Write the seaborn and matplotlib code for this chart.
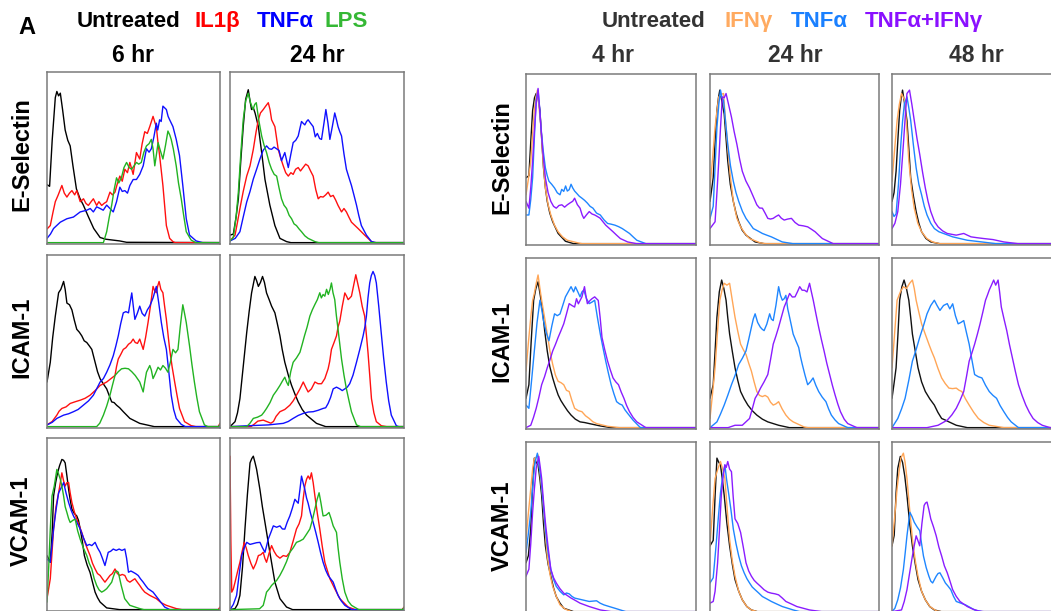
import matplotlib
matplotlib.use("Agg")
import matplotlib.pyplot as plt
import pandas as pd
import seaborn as sns

# ---------------------------------------------------------------------------
# Flow-cytometry histograms: x = log fluorescence (0-100), y = % of max count
# ---------------------------------------------------------------------------

# ---- Panel group 1: Untreated / IL1b / TNFa / LPS at 6 hr and 24 hr ----
LEFT_TREATMENTS = ["Untreated", "IL1\u03b2", "TNF\u03b1", "LPS"]
LEFT_TIMES = ["6 hr", "24 hr"]
MARKERS = ["E-Selectin", "ICAM-1", "VCAM-1"]

ES6_UNT = [(0,34),(1.5,33),(3,60),(4.8,85),(5.7,88.6),(6.7,86),(7.7,87.6),(9,78),(10.5,66),(12,60),(13.4,56.7),(15,45),(17,31.5),(19,26),(21,22),(24,15),(27,8.3),(30.7,3),(34,2),(38,1.5),(42,1),(46,0.2)]
ES6_IL1B = [(0,8),(1.9,10),(3.5,18),(4.8,24),(6.5,28),(8.6,33.5),(10,29),(11.5,26.7),(13,29),(14.4,30.5),(16,28),(17.2,30.5),(19.2,24),(21.1,25.7),(22.5,23),(23.9,21.8),(25.5,24),(26.8,25.7),(28.7,21.8),(30,24),(31.6,21.8),(33,23),(34.5,24),(36.4,29.6),(37.8,28),(39.3,29.6),(40.5,34),(42.1,39),(43.5,36),(45,43),(46.5,41),(47.9,47),(49.8,40),(51.7,52.8),(53.6,49),(55,58),(56.5,65),(58,64),(59.4,68),(61.3,74),(62.5,70),(63.2,68),(64,60),(65.1,51),(67,33.5),(69,10),(70.9,2.5),(72.8,0.6),(74,0)]
ES6_TNF = [(0,2.5),(2,5),(3.8,8.3),(7.7,12),(11.5,14),(15.3,15),(19.2,18),(23,19),(25,20),(26.8,18),(28.7,21),(30.7,20),(32.5,19),(34.5,22),(38.3,18),(40.2,24),(42.1,32.5),(43.5,30),(45,30.5),(46.5,29),(47.9,33.5),(49.8,37),(51.7,37),(53.6,40),(55.6,45),(57.5,55),(59,53),(60.3,55),(61.8,62),(63.2,70),(64,66),(65.1,72),(66,71),(67,80),(68,79),(69,78),(70,74),(70.9,72),(72.8,68),(74.7,60.5),(76.6,51),(78.5,33.5),(80.5,14),(82.4,4.4),(86.2,1),(90,0)]
ES6_LPS = [(32.6,0),(34.5,6.4),(36,15),(37.4,22),(38.8,31),(40.2,38),(41.5,35),(43,38),(44.5,44),(46,47),(47.5,44),(48.9,43),(50.3,45),(51.7,47),(53,46),(54.5,47),(56,53),(57.5,56.7),(59,58),(60.3,60.5),(61.3,55),(62.3,45),(63.3,52),(64.2,58.6),(65.5,54),(67,49),(68.5,57),(69.9,65.4),(71,63),(71.8,60.5),(73,55),(74.7,45),(76,35),(77.6,25.7),(79,16),(80.5,6.4),(83.3,1.5),(86,0)]

ES24_UNT = [(0,4.4),(1.9,5),(3.5,15),(4.8,25.7),(6.2,48),(7.6,68),(9,84),(10.5,89.6),(11.5,83),(12.4,78),(13.4,79),(14.4,76),(16.3,68),(18.2,52.8),(20.1,37),(22.9,22),(25.8,10),(28.7,2.5),(32.5,0.6),(35,0)]
ES24_IL1B = [(0,1),(2.9,4.4),(4.3,12),(5.7,20),(7.6,30),(9.6,39),(11.5,45),(13.4,54.7),(15,65),(16.3,72),(17.5,76),(19.1,78),(20.5,80),(22,82),(23,78),(23.9,72),(25.8,68),(27.7,54.7),(29,50),(30.6,45),(32,41),(33.5,39),(35,41),(36.3,40),(37.7,43),(39.2,44),(40.5,42),(42,44),(43.5,46),(44.9,45),(46.3,42),(47.8,39),(49.3,31),(50.7,25.7),(52,27),(53.5,26.7),(55,28),(56.4,29.6),(57.8,27),(59.3,27.7),(60.7,25),(62.1,21.8),(64.1,18),(65.5,20),(66.9,18),(68.3,15),(69.8,12),(73.6,8.3),(77.4,4.4),(81.3,0.6),(83,0)]
ES24_TNF = [(0,1),(3,2.5),(5.7,6.4),(7.6,15),(9.6,23.8),(11.5,30),(13.4,37.3),(15.3,43),(17.2,49),(19,54),(21,56.7),(22.5,55),(23.9,54.7),(25.3,56),(26.8,55),(28.2,54),(29.6,48),(31.5,52.8),(33.5,44),(35,52),(36.3,58.6),(37.8,60),(39.2,62.5),(40.2,67),(41.1,71),(42,70),(43,69),(44,71),(44.9,72),(46.3,70),(47.8,68),(49,62),(50.2,64),(51.5,61),(52.6,60.5),(54,70),(55.1,78),(56.3,70),(57.4,60.5),(58.8,68),(60.2,76),(61.2,72),(62.1,68),(63.1,65),(64.1,62.5),(65.5,52),(66.9,43),(68.4,38),(69.8,33.5),(71.2,28),(72.7,22),(74,16),(75.5,10),(78.4,4.4),(81.3,0.6),(84,0)]
ES24_LPS = [(0,1),(1.9,3),(3.5,15),(4.8,29.6),(6.2,52),(7.6,72),(9,83),(10.5,87.6),(11.8,82),(13.2,78),(14.2,81),(15.1,82),(16.5,72),(18.2,62.5),(19.6,57),(21,52.8),(22.5,47),(23.9,43),(25.4,40),(26.8,39),(28.2,32),(29.6,25.7),(31,22),(32.5,20),(34,16),(35.4,14),(36.8,11),(38.2,10),(39.7,8),(41.1,6.4),(43,4),(44.9,2.5),(48.8,0.6),(51,0)]

IC6_UNT = [(0,26),(1.9,37.5),(3.3,52),(4.8,64.4),(6.7,78),(8,80),(9.6,84.6),(10.5,80),(11.5,72),(13,71),(14.4,68),(15.8,62),(17.2,56.7),(18.7,55),(20.1,52.9),(21.5,50),(23,49),(24.5,47),(25.9,45),(27.8,37.5),(29.2,32),(30.7,27.9),(32.5,25),(34.5,22),(36,18),(37.4,14.4),(38.8,14),(40.2,12.5),(42,11),(44.1,8.7),(47.9,4.8),(53.6,1.9),(59.4,0.6),(62,0)]
IC6_IL1B = [(0,1),(3,3),(5.7,6.7),(7,9),(8.6,10.6),(11,11.5),(13.4,13.5),(16.3,14.5),(19.2,15.4),(22,16.5),(24.9,18.3),(27.8,21),(30.7,24),(32.6,25),(34.5,26),(37,28),(39.3,29.8),(40.2,35),(41.2,39.4),(42.6,42),(44.1,45),(45.6,46),(47.1,48),(48.5,49),(49.8,51),(51,49),(52.3,48.5),(53.6,51),(54.6,48),(55.6,45),(57,52),(58.4,60.6),(59.9,71),(61.3,81.7),(62.3,79),(63.2,78),(64,82),(64.8,84.6),(65.8,80),(67,78),(68,70),(69,62.5),(70.9,45),(72.3,35),(73.8,26),(75.2,18),(76.6,10.6),(79.5,2.9),(83.3,0.6),(86,0),(99,0),(100,2)]
IC6_TNF = [(0,1),(3,2.5),(5.7,4.8),(9.6,6.7),(12.5,7.5),(15.3,8.7),(18,10),(21,12.5),(24,15),(26.8,18.3),(28.7,22),(30.7,26),(32.6,28),(34.5,31.7),(36.4,36),(38.3,41.3),(39.8,47),(41.2,52.9),(42.6,60),(44.1,66.3),(45.6,67),(47.1,66.3),(48,72),(49,77.9),(49.9,70),(50.8,62.5),(52.2,66),(53.6,70.2),(55,66),(56.5,64.4),(58,68),(59.4,70.2),(61.3,75),(63.2,81.7),(64.6,72),(66.1,60.6),(67.5,52),(69,45),(70.4,32),(71.8,18.3),(73.2,10),(74.7,4.8),(77.6,1.3),(80,0)]
IC6_LPS = [(28.7,0),(30.5,2),(32.6,6.7),(34.5,12),(36.4,18.3),(37.8,24),(39.3,29.8),(41.2,32),(43.1,33.7),(45.1,34),(47.1,33.7),(49,32),(51,29.8),(53.6,26),(55.6,20.2),(56.5,26),(57.5,31.7),(59.4,35.6),(60.3,33),(61.3,28),(62.7,31),(64.2,34.6),(65.6,33),(67,35.6),(68.5,34),(69.9,31.7),(71.4,38),(72.8,45),(74.3,43),(75.7,45),(77,58),(78.5,71),(79.5,66),(80.5,60.6),(82.4,47),(83.8,36),(85.2,26),(86.6,17),(88.1,8.7),(91,1),(93,0),(99,0),(100,1)]

IC24_UNT = [(0,0),(2.9,2.9),(4.3,8),(5.7,16.3),(7.6,35),(9.6,54.8),(11,67),(12.4,77.9),(14.3,87.5),(15.3,85),(16.3,81.7),(17.5,84),(18.7,87.5),(19.8,84),(21,77.9),(22.5,74),(23.9,70.2),(25.8,66.3),(27.2,60),(28.7,52.9),(30,45),(31.5,37.5),(33.5,30),(35.4,24),(37.3,19),(39.2,14.4),(41.5,10),(44,6.7),(49.7,1.9),(55,0)]
IC24_IL1B = [(12,0),(14,1.5),(16,3.2),(19.1,3.8),(21,3),(23.5,2),(25,3),(26.5,6),(28.7,8.7),(31.5,10),(34.4,12.5),(36.3,15),(38.2,18.3),(40.2,22),(42.1,26),(43.5,23),(44.9,20.2),(46.8,22),(48.8,26),(50.6,25),(52.6,25),(54.5,28),(56.4,33.7),(57.3,38),(58.3,45),(59.8,49),(61.2,52.9),(62.1,58),(63.1,61.5),(64.5,70),(66,77.9),(67,76),(67.9,74),(68.9,75),(69.8,76),(71,82),(72.3,88.5),(73.5,83),(74.6,77.9),(76,70),(77.4,64.4),(79.3,43.3),(80.3,30),(81.3,16.3),(82.7,8),(84.1,2.9),(87,0.5),(90,0)]
IC24_TNF = [(0,0),(10,0.5),(22,1),(30.6,1.9),(33.5,3),(36.3,4.8),(39.2,6.5),(42.1,7.7),(45,8.5),(47.8,8.7),(50.6,9.5),(53.5,10.6),(55,11),(56.4,13.5),(57.8,17),(59.3,22),(61.2,23),(63.1,22),(64.5,21),(66,22),(67.4,23),(68.8,25),(70.7,30),(72.7,37.5),(74.6,45),(76.5,52.9),(77.5,58),(78.4,64.4),(79.3,75),(80.3,83.7),(81.2,88),(82.2,90.4),(83.2,88),(84.1,83.7),(85.5,70),(86.9,54.8),(88.3,40),(89.8,26),(91.2,15),(92.7,6.7),(95.6,0.5),(97,0)]
IC24_LPS = [(9.6,0),(11.5,2),(13.4,4.8),(15.8,5.5),(18.2,6.7),(19.6,8.5),(21,10.6),(23,14),(24.9,18.3),(26.8,21),(28.7,24),(30.1,26.5),(31.5,28.8),(32.5,26),(33.5,24),(34.9,32),(36.3,37.5),(38.2,40),(40.2,43.3),(41.5,48),(42.8,52.9),(44.3,58),(45.9,64.4),(47.3,68),(48.8,71.2),(50.2,74),(51.6,78),(52.5,75),(53.5,77),(54.5,76),(55.5,80),(56.5,77),(57.5,80),(58.3,83.7),(59.2,78),(60.2,74),(61.1,65),(62.1,56.7),(63.1,48),(64.1,39.4),(65.5,30),(66.9,22),(68.4,15),(69.8,8.7),(72.7,1),(75,0)]

VC6_UNT = [(0,31.5),(1.9,27.6),(3,45),(3.8,66.2),(5,74),(6.1,79.7),(7.3,84),(8.6,87.5),(9.6,87),(10.5,85.5),(11.5,78),(12.5,70),(13.4,64),(14.4,58.5),(15.8,56),(17.2,54.6),(18.2,52),(19.2,47),(20.4,40),(21.6,31.5),(23.2,26),(24.9,21.6),(26.3,16),(27.8,10.2),(29.2,7),(30.7,4.4),(34.5,1),(42,0)]
VC6_IL1B = [(0,6.4),(1.9,18),(3.8,47),(5.2,60),(6.7,68),(7.7,74),(8.6,79.7),(9.6,75),(10.5,72),(11.5,74),(12.5,74),(13.4,68),(14.4,62.4),(15.8,57),(17.2,52.7),(18.6,49),(20.1,45),(21,42),(22,39),(23.5,35),(24.9,31.5),(26.3,27),(27.8,23.7),(29.2,21),(30.7,19.9),(32,18),(33.5,16),(35,18),(36.4,19.9),(37.8,21),(39.3,23.7),(40.7,21),(42.1,19.9),(43.5,20.5),(45,19.9),(46.4,17),(47.9,16),(49.3,17),(50.8,18),(52.2,16),(53.6,14.1),(55,12),(56.5,10.2),(59.4,8.3),(63.2,6.4),(66,4),(69,2.5),(74.7,0.6),(78,0),(99,0),(100,1.5)]
VC6_TNF = [(0,29.5),(1.9,27.6),(2.9,38),(3.8,47),(5.2,58),(6.7,68),(8.2,71),(9.6,74),(11,68),(12.5,62.4),(13.9,58),(15.3,54.6),(17.2,51),(19.2,47),(21,42),(23,37.3),(24.5,38),(25.9,37.3),(27.8,39.2),(29.2,36),(30.7,33.4),(32,30),(33.5,25.7),(35.4,33.4),(36.8,34),(38.3,35.3),(40,34.5),(41.7,35.3),(43.3,34.5),(45,35.3),(46,30),(47.1,21.8),(48.5,22.5),(49.8,21.8),(51.2,21),(52.7,19.9),(54,18),(55.6,16),(57,14),(58.4,12.2),(61.3,10.2),(64.2,6.4),(68,1.5),(71,0)]
VC6_LPS = [(0,4.4),(1,25),(1.9,47),(2.9,66.2),(4.2,72),(5.7,81.7),(6.7,79),(7.7,75.9),(8.6,72),(9.6,66.2),(10.5,60),(11.5,56.6),(12.5,53),(13.4,50.8),(14.9,52),(16.3,52.7),(17.7,46),(19.2,41),(21,36),(23,31.5),(24.4,27),(25.9,23.7),(27.3,18),(28.7,14.1),(30.1,11.5),(31.6,10.2),(33,11),(34.5,12.2),(35.9,14),(37.4,16),(38.3,19),(39.3,21.8),(40.2,22.5),(41.2,21.8),(42.9,14.1),(44.9,6.4),(47.9,2.5),(53.6,0.6),(56,0)]

VC24_UNT = [(0,0),(2.9,0.6),(4.3,3),(5.7,8.3),(7.2,25),(8.6,47),(10,67),(11.5,85.5),(12.5,88),(13.4,89.4),(14.3,86),(15.3,81.7),(17.2,70),(18.6,60),(20.1,50.8),(22.9,33.4),(25.8,16),(28.7,6.4),(32.5,1.5),(36,0)]
VC24_IL1B = [(0,89.4),(0.5,40),(1,10.2),(1.9,12),(2.9,16),(4.3,22),(5.7,27.6),(7,34),(8.2,39.2),(9.3,36),(10.5,31.5),(12,27),(13.4,23.7),(14.9,27),(16.3,31.5),(17.7,32),(19.1,33.4),(20,30),(21,27.6),(22.5,33),(23.9,37.3),(25.3,34),(26.8,31.5),(28.7,30),(30.6,31.5),(32.5,31),(34.4,33.4),(36.3,40),(38.2,47),(39.7,50),(41.1,54.6),(42,64),(43,72),(44,76),(44.9,77.9),(45.9,76),(46.8,79.7),(47.8,74),(48.8,66.2),(50.2,56),(51.6,47),(53,37),(54.5,27.6),(57.4,18),(60.2,12.2),(63.1,6.4),(67.9,1.5),(72,0),(99,0),(100,1.5)]
VC24_TNF = [(0,0),(1.9,3),(3.8,8.3),(5.2,20),(6.7,31.5),(8.2,36),(9.6,39.2),(11.5,38),(13.4,38.5),(15.3,39),(17.2,39.2),(18.7,36),(20.1,33.4),(21,37),(22,41.1),(23.5,45),(24.9,48.8),(26.8,48),(28.7,48.8),(30.1,47),(31.5,46.9),(32.9,51),(34.4,54.6),(35.8,59),(37.3,64.3),(38.3,63),(39.2,62),(40.2,70),(41.1,77.8),(42,74),(43,70),(44,65),(44.9,62),(46.3,56),(47.8,50.8),(49.3,45),(50.7,39.2),(52.1,33),(53.5,27.6),(55,23),(56.4,19.9),(57.8,18),(59.3,16),(60.7,12),(62.1,8.3),(64,5),(66,2.5),(70,0)]
VC24_LPS = [(0,0),(17,0.5),(19.1,2.5),(20,6),(21,10.2),(22.5,12),(23.9,14.1),(25.3,15.5),(26.8,17),(28.7,20),(30.6,23.7),(32.5,28),(34.4,33.4),(36.3,36),(38.2,39.2),(40.2,40),(42.1,41.1),(44,44),(45.9,47),(47.3,52),(48.8,58.6),(50,64),(51.2,68.1),(52.3,62),(53.5,54.6),(55.2,55),(56.9,56.6),(58.1,53),(59.3,48.8),(60.2,47),(61.2,45),(62.1,36),(63.1,27.6),(64.5,18),(66,10.2),(67.9,5),(69.8,2.5),(74,0),(99,0),(100,1)]

# ---- Panel group 2: Untreated / IFNg / TNFa / TNFa+IFNg at 4, 24, 48 hr ----
RIGHT_TREATMENTS = ["Untreated", "IFN\u03b3", "TNF\u03b1", "TNF\u03b1+IFN\u03b3"]
RIGHT_TIMES = ["4 hr", "24 hr", "48 hr"]

ES4_UNT = [(0,38.8),(1.7,40),(2.8,60),(3.9,78.5),(5,86),(6,88.5),(7.1,86),(8.2,78.5),(9.2,62),(10.3,44.7),(11.4,33),(12.5,24.9),(14,18),(15.7,12.9),(18.9,6),(23.2,1.4),(28,0)]
ES4_IFN = [(0,28.8),(1.4,38),(2.8,48.7),(3.9,65),(4.9,78.5),(5.8,86),(6.7,90.5),(7.7,80),(8.8,68.6),(10.1,48),(11.4,32.8),(13,23),(14.6,16.9),(16.7,11),(18.9,7),(21.5,4),(24.3,2),(30.8,0.4),(33,0)]
ES4_TNF = [(0,16.9),(1.7,16.9),(2.8,26),(3.9,38.8),(4.9,62),(6,84.5),(7.1,90.5),(8,80),(8.8,68.6),(10.1,55),(11.4,44.7),(12.5,40),(13.5,36.8),(15.1,35),(16.8,32.8),(18.4,30),(20,28.8),(21,32),(22.2,30.8),(23.3,34),(24.3,31),(25.4,31.8),(26.5,35),(27.5,32.8),(28.6,31),(29.7,29.8),(31.3,28),(32.9,26.8),(34.5,25.5),(36.1,23.9),(37.7,22),(39.4,20.9),(41.5,18),(43.7,16.9),(45.9,14),(48,11.9),(50,11.5),(52.3,10.9),(54.5,10),(56.6,8.9),(60.9,6),(63,4),(65.2,2),(70.5,0)]
ES4_COMBO = [(0,24.9),(1.7,20.9),(2.8,33),(3.9,48.7),(4.9,66),(6,82.5),(7.1,91.5),(8,80),(8.8,68.6),(10.1,52),(11.4,38.8),(13,30),(14.6,24.9),(16.2,22),(17.8,20.9),(19.4,22.5),(21.1,22.9),(22.7,21.5),(24.3,22.9),(25.9,24),(27.5,25),(28.6,26.8),(30.2,23),(31.8,20.9),(33,17),(34,14.9),(35.6,17),(37.2,18.9),(38.8,17.5),(40.4,16.9),(42,16),(43.6,15),(45.2,13),(46.9,10.9),(49,9),(51.2,7),(53.3,5),(55.5,3),(59.8,1),(65,0)]

ES24R_UNT = [(0,24.9),(1.9,38.8),(3,60),(4.1,78.5),(5,86),(5.8,90.5),(7,84),(8.4,76.5),(9.5,62),(10.5,48.7),(12,35),(13.8,24.9),(15.4,18),(17,12.9),(19,8),(21.3,5),(26.7,1),(32,0)]
ES24R_IFN = [(0,32.8),(1.5,50),(3,68.6),(4.1,78),(5.2,86.5),(6.6,88),(8,88.5),(9.2,72),(10.5,56.7),(12,40),(13.8,24.9),(15.9,15),(18.1,9.9),(20.7,6),(23.4,3),(29.9,0.4),(33,0)]
ES24R_TNF = [(0,14.9),(1.9,22),(3,45),(4.1,68.6),(5.2,82),(6.2,90.5),(7.1,86),(8,84.5),(9.2,72),(10.5,58.6),(12.1,46),(13.8,36.8),(15.4,30),(17,24.9),(19.2,19),(21.3,14.9),(23.4,12),(25.6,8.9),(28.3,7.5),(31,6),(33.6,5),(36.3,4),(39.5,2.5),(42.8,1),(49,0)]
ES24R_COMBO = [(0,8.9),(3,12.9),(4.1,30),(5.2,48.7),(6.2,68),(7.3,86.5),(8.4,86),(9.5,88.5),(11,82),(12.7,74.6),(14.3,66),(15.9,58.6),(17.5,50),(19.1,42.7),(21.2,37),(23.4,32.8),(25.5,28),(27.7,22.9),(29.3,21),(31,20.9),(32.6,18),(34.2,14.9),(35.8,14.5),(37.4,14.9),(39,16),(40.6,16.9),(42.2,15),(43.9,13.9),(46,14.5),(48.2,14.9),(50.3,12.5),(52.5,10.9),(55.2,10.5),(57.8,9.9),(60,8.5),(62.2,7),(64.3,5),(66.5,3),(72.9,0)]

ES48_UNT = [(0,24.9),(1.2,30),(2.4,42.7),(3.5,62),(4.5,78.5),(5.4,86),(6.2,90.5),(7.5,82),(8.8,72.6),(9.9,56),(11,38.8),(12.6,28),(14.2,18.9),(15.8,12),(17.4,7),(20,3),(22.8,1),(28,0)]
ES48_IFN = [(0,36.8),(1.5,55),(3,72.6),(4.3,82),(5.6,88.5),(7.3,85),(8.6,70),(9.9,48.7),(11.5,32),(13.1,20.9),(15.2,12),(17.4,7),(20.5,3),(23.9,1),(28,0)]
ES48_TNF = [(0,18.9),(1.2,16),(2.4,17.5),(3.8,35),(5.2,58.6),(6.2,72),(7.3,82.5),(8.8,86.5),(9.9,80),(11,72.6),(12.6,58),(14.2,44.7),(15.8,35),(17.4,28.8),(19,22),(20.6,16.9),(22.8,12),(24.9,8.9),(27.6,7),(30.3,6),(33,5),(35.7,4),(40,3),(44.3,2),(52.9,1),(61,0)]
ES48_COMBO = [(0,8.9),(1.7,12),(3.4,18.9),(5,35),(6.7,58.6),(7.8,75),(8.8,88.5),(10.3,90.5),(11.7,82),(13.1,72.6),(14.7,62),(16.3,52.7),(18,42),(19.6,32.8),(21.2,25),(22.8,18.9),(25,13),(27.1,9.9),(29.8,7.5),(32.5,6),(35.1,5.5),(37.8,5),(40,5.5),(42.2,6),(44.3,5),(46.5,4),(50,3.5),(54,3),(59.4,2.4),(65.8,1),(74,0)]

IC4_UNT = [(0,17.3),(1.7,25.3),(3,50),(4.5,75.1),(5.8,82),(7.1,86),(8.4,78),(9.7,69.1),(11,57),(12.5,45.2),(14,36),(15.7,29.3),(17.3,24),(18.9,19.3),(20.5,16),(22.2,13.3),(24.4,10),(26.5,7.4),(29,5),(31.8,3.4),(34.5,3),(37.2,2.4),(43.7,1),(50,0)]
IC4_IFN = [(0,33.3),(1.4,50),(2.8,65.1),(3.9,75),(4.9,79.1),(6,85),(7.1,90),(8.2,82),(9.2,75.1),(10.9,65),(12.5,55.2),(14.1,45),(15.7,37.3),(17.3,31),(18.9,27.3),(20.6,26.5),(22.2,25.3),(23.8,22),(25.4,21.3),(27,16),(28.6,11.4),(30.8,10),(32.9,9.4),(35,7),(37.2,5.4),(39.3,3.5),(41.5,2.4),(48,0.8),(55,0)]
IC4_TNF = [(0,13.3),(1.7,11.4),(3.3,28),(4.9,45.2),(6.5,62),(8.2,75.1),(9.2,70),(10.3,63.1),(11.9,56),(13.5,51.2),(15.2,60),(16.8,67.1),(18.4,66),(20,67),(21.6,72),(23.2,77.1),(24.8,80),(26.5,83.1),(28,80),(29.1,83),(30.5,80),(31.8,77.1),(32.9,80),(34,81.1),(35.6,76),(37.2,73.1),(38.8,74),(40.4,75.1),(42,65),(43.7,55.2),(45.3,47),(46.9,39.2),(48.5,32),(50.1,25.3),(51.7,20),(53.3,15.3),(55,14),(56.6,13.3),(58.2,10.5),(59.8,8.4),(63,4.4),(67.3,0)]
IC4_COMBO = [(0,0),(2.8,1.4),(4.4,6),(6,11.4),(7.6,18),(9.2,25.3),(10.9,30),(12.5,35.3),(14.1,40),(15.7,45.2),(17.3,49),(18.9,53.2),(20.5,57),(22.2,61.2),(23.8,67),(25.4,73.1),(27,72),(28.6,71.1),(29.7,76),(30.8,73),(32.9,77.1),(34.4,83.1),(35.2,78),(36.1,73.1),(37.7,75),(38.8,76),(40.4,77.1),(41.5,76),(42.5,75),(43.6,65),(44.7,53.2),(46.3,46),(48,39.2),(49.6,34),(51.2,29.3),(52.8,27),(54.4,25.3),(56,21),(57.6,17.3),(59.2,13),(60.9,9.4),(63,6),(65.2,3.4),(70.5,0)]

IC24R_UNT = [(0,17.3),(1.9,25.3),(3,45),(4.1,65.1),(5.5,80),(6.9,87),(8.2,82),(9.5,75.1),(10.5,65),(11.6,55.2),(13.2,45),(14.8,35.3),(16.4,28),(18.1,21.3),(20.2,17),(22.4,13.3),(25,10),(27.7,7.4),(31,5),(34.2,3.4),(40.6,1.4),(47,0)]
IC24R_IFN = [(0,5.4),(1.5,20),(3,35.3),(4.4,56),(5.8,75.1),(7.1,81),(8.4,85.1),(10,84),(11.6,85.1),(13.2,75),(14.8,65.1),(16.4,57),(18.1,49.2),(19.7,46),(21.3,43.2),(22.9,38),(24.5,33.3),(26.1,27),(27.7,21.3),(29.3,19),(31,18.3),(32.6,19),(34.2,18),(35.8,15),(37.4,13.3),(39,14),(40.6,15.3),(42.7,11),(44.9,7.4),(47,5),(49.2,3.4),(55.7,0.4),(58,0)]
IC24R_TNF = [(0,0),(4.1,3.4),(6.2,8),(8.4,13.3),(10.5,19),(12.7,25.3),(14.9,31),(17,37.3),(19.2,41),(21.3,45.2),(22.9,52),(24.5,59.2),(25.6,64),(26.7,67.1),(28.2,62),(29.8,59.2),(30.9,58),(32,57.2),(33.6,61),(35.3,67.1),(36.3,64),(37.4,63.1),(39,72),(40.6,83.1),(41.7,78),(42.8,75.1),(43.9,76),(44.9,78),(46,70),(47.1,65.1),(48.2,60),(49.2,55.2),(50.9,51),(52.5,47.2),(53.5,42),(54.6,37.3),(56.2,31),(57.8,25.3),(59.4,27),(61,29.3),(62.6,25),(64.3,21.3),(66.4,18),(68.6,15.3),(70.2,11),(71.8,7.4),(74,4.5),(76.1,2.4),(81.5,0)]
IC24R_COMBO = [(0,0),(10.7,0),(14.8,1.4),(19.1,1.4),(23.4,5.4),(25,11),(26.7,17.3),(28.3,20),(29.9,23.3),(32,27),(34.2,31.3),(35.8,40),(37.4,49.2),(39,54),(40.6,59.2),(42.2,65),(43.9,71.1),(45.5,75),(47.1,79.1),(48.7,77),(50.3,77.1),(51.7,80),(53.1,83.1),(54.5,81),(55.9,81),(57.4,80),(58.9,85.1),(60,80),(61.1,75.1),(62.7,67),(64.3,59.2),(65.9,52),(67.5,45.2),(69.1,38),(70.8,31.3),(72.4,25),(74,19.3),(75.6,14),(77.2,9.4),(79.4,5),(81.5,2.4),(86.9,0)]

IC48_UNT = [(0,17.3),(1.2,26),(2.4,35.3),(3.5,55),(4.5,75.1),(5.8,83),(7.1,87),(8.5,82),(9.9,75.1),(11,65),(12,55.2),(13.7,45),(15.3,35.3),(17.4,27),(19.6,21.3),(22.2,17),(24.9,13.3),(27,9),(29.2,5.4),(31.3,4.5),(33.5,3.4),(37.8,1.4),(44.3,0)]
IC48_IFN = [(0,35.3),(1.5,55),(3,75.1),(4.9,80),(6.7,83.1),(8.5,82),(10.3,85),(12,87),(13.1,82),(14.2,75.1),(15.8,68),(17.4,61.2),(19.6,55),(21.7,49.2),(23.3,45),(24.9,41.2),(27,35),(29.2,29.3),(31.3,26),(33.5,23.3),(35.6,23),(37.8,23.3),(39.5,22),(41.1,21.3),(43.2,17),(45.4,13.3),(48.1,9),(50.8,5.4),(54,3),(57.2,1.4),(65.8,0)]
IC48_TNF = [(0,0),(3.4,5.4),(5.6,11),(7.7,17.3),(9.9,28),(12,39.2),(14.2,46),(16.3,53.2),(18.5,60),(20.6,67.1),(22.8,72),(24.9,75.1),(26.5,72),(28.2,69.1),(30.3,72),(32.5,73.1),(34,70),(35.7,73),(37.3,66),(38.9,61.2),(40.5,62),(42.2,63.1),(43.8,56),(45.4,49.2),(47,40),(48.6,31.3),(50.8,30),(52.9,29.3),(55,25),(57.2,21.3),(59.4,19),(61.5,17.3),(63.6,13),(65.8,9.4),(68,6),(70.1,3.4),(74.4,0)]
IC48_COMBO = [(0,0),(20.6,0),(27.1,1.4),(32.5,4.4),(35.2,7.5),(37.8,11.4),(40,16),(42.2,21.3),(43.8,30),(45.4,39.2),(47,44),(48.6,49.2),(50.2,55),(51.8,61.2),(53.4,68),(55,75.1),(56.1,78),(57.2,81.1),(58.5,84),(59.8,87),(61,84),(62.4,87),(63.3,80),(64.3,71.1),(65.9,64),(67.5,57.2),(69.1,49),(70.8,41.2),(72.6,33),(74.4,25.3),(76.5,19),(78.7,13.3),(80.8,9),(83,5.4),(85.7,3),(88.4,1.4),(93,0)]

VC4_UNT = [(0,28.8),(1.4,33),(2.8,48.7),(3.8,72),(4.9,90.5),(6,88),(7.1,86.5),(8.2,78),(9.2,68.6),(10.3,52),(11.4,38.8),(13,28),(14.6,20.9),(16.2,14),(17.8,8.9),(20,5),(22.2,2),(28,0)]
VC4_IFN = [(0,42.7),(1.4,58),(2.8,72.6),(4,85),(4.9,90),(6,91),(7.1,92.4),(8.4,80),(9.7,68.6),(11.1,50),(12.5,32.8),(14.1,22),(15.7,14.9),(17.8,9),(20,4),(23,1.5),(26.9,0)]
VC4_TNF = [(0,34.8),(1.4,46),(2.8,58.6),(3.8,72),(4.9,84.5),(5.8,90),(6.7,93.4),(7.7,86),(8.8,78.5),(10.1,64),(11.4,48.7),(13,35),(14.6,24.9),(16.2,19),(17.8,14.9),(20,12),(22.2,9.9),(23.8,11),(25.4,10.5),(27,9),(28.6,8),(30.7,7.5),(32.9,7),(35,6.5),(37.2,6),(39.3,6.2),(41.5,6.4),(43.6,5),(45.8,4),(49,3),(52.3,2),(58.7,0)]
VC4_COMBO = [(0,20.9),(1.7,25),(2.8,40),(3.9,58.6),(4.9,72),(6,84.5),(7.5,91.5),(8.4,85),(9.2,78.5),(10.3,65),(11.4,52.7),(13,38),(14.6,24.9),(16.2,20),(17.8,16.9),(20,13.5),(22.2,10.9),(24.3,9.5),(26.5,8),(29.2,6.5),(31.8,5),(34.5,4),(37.2,3),(43.7,1),(50,0)]

VC24R_UNT = [(0,38.8),(1.9,42),(3,68),(4.1,90.5),(5.2,88),(6.2,86.5),(7.3,78),(8.4,68.6),(10,52),(11.6,38.8),(13.2,28),(14.8,18.9),(17,12),(19.1,7),(21.8,3),(24.5,1),(28,0)]
VC24R_IFN = [(0,38.8),(1.5,60),(3,78.5),(4.6,84),(6.2,88.5),(7.5,84),(8.8,78.5),(10.2,60),(11.6,42.7),(13.2,30),(14.8,20.9),(17,12),(19.1,7),(21.8,3),(24.5,1),(28,0)]
VC24R_TNF = [(0,16.9),(1.9,20),(3.5,38),(5.2,58.6),(6.2,70),(7.3,78.5),(8.8,86.5),(9.8,78),(10.9,70.6),(12.4,60),(13.8,48.7),(15.4,40),(17,32.8),(18.6,27),(20.2,22.9),(21.8,19.5),(23.4,16.9),(25,14.5),(26.7,12.9),(28.8,11),(31,8.9),(33.6,7.5),(36.3,6),(39.5,4.5),(42.8,3),(49.2,1),(53,0)]
VC24R_COMBO = [(0,5),(1.9,6),(3,12),(4.5,28.8),(5.6,48),(6.7,68.6),(7.8,80),(8.8,86.5),(9.6,85),(10.5,88.5),(11.6,84),(12.7,82.5),(13.7,68),(14.8,54.7),(16.4,52),(18.1,46.7),(19.7,38),(21.3,28.8),(22.9,24),(24.5,20.9),(26.1,18.5),(27.7,16.9),(29.8,15),(32,12.9),(34.2,11.5),(36.3,10.9),(38.5,10.5),(40.6,9.9),(42.8,8),(44.9,6),(48.2,4.5),(51.4,3),(58.9,1),(66,0)]

VC48_UNT = [(0,38.8),(1.3,45),(2.4,70),(3.4,84.5),(4.9,91.5),(6.2,88),(7.5,80),(8.8,68.6),(10.4,52),(12,38.8),(13.7,28),(15.3,18.9),(17.4,12),(19.6,7),(22.2,3),(24.9,1),(29,0)]
VC48_IFN = [(0,38.8),(1.5,55),(3,72.6),(4.1,82),(5.2,90.5),(6.7,93.4),(7.7,88),(8.8,78.5),(10.4,60),(12,42.7),(13.7,30),(15.3,20.9),(17.4,12),(19.6,7),(22.3,3),(26.2,0.4),(29,0)]
VC48_TNF = [(0,0),(1.7,2),(3.4,7),(5,14),(6.7,24.9),(7.8,35),(8.8,44.7),(9.7,52),(10.5,58.6),(11.8,56),(13.1,52.7),(14.7,50),(16.3,47.7),(17.4,40),(18.5,32.8),(20.1,26),(21.7,20.9),(22.8,18),(23.9,16.9),(25,19),(26,20.9),(27.1,22.5),(28.2,22.9),(29.8,20),(31.4,16.9),(33,15),(34.6,12.9),(36.2,9),(37.8,6),(40.5,5),(43.2,4),(45.9,2.5),(48.6,1),(53,0)]
VC48_COMBO = [(0,0),(5.6,1),(7.2,6),(8.8,12.9),(10.4,23),(12,32.8),(13.1,39),(14.2,44.7),(15.2,42),(16.3,38.8),(17.6,52),(18.9,62.6),(19.7,64),(20.6,64.6),(21.7,60),(22.8,54.7),(24.4,50),(26,44.7),(27.6,38),(29.2,32.8),(30.8,27),(32.5,22.9),(34.1,18),(35.7,12.9),(37.8,9),(40,6),(42.1,4.5),(44.3,3),(47.5,1.5),(50.8,0.4),(54,0)]

LEFT_PANELS = [
    [[ES6_UNT, ES6_IL1B, ES6_TNF, ES6_LPS], [ES24_UNT, ES24_IL1B, ES24_TNF, ES24_LPS]],
    [[IC6_UNT, IC6_IL1B, IC6_TNF, IC6_LPS], [IC24_UNT, IC24_IL1B, IC24_TNF, IC24_LPS]],
    [[VC6_UNT, VC6_IL1B, VC6_TNF, VC6_LPS], [VC24_UNT, VC24_IL1B, VC24_TNF, VC24_LPS]],
]
RIGHT_PANELS = [
    [[ES4_UNT, ES4_IFN, ES4_TNF, ES4_COMBO], [ES24R_UNT, ES24R_IFN, ES24R_TNF, ES24R_COMBO],
     [ES48_UNT, ES48_IFN, ES48_TNF, ES48_COMBO]],
    [[IC4_UNT, IC4_IFN, IC4_TNF, IC4_COMBO], [IC24R_UNT, IC24R_IFN, IC24R_TNF, IC24R_COMBO],
     [IC48_UNT, IC48_IFN, IC48_TNF, IC48_COMBO]],
    [[VC4_UNT, VC4_IFN, VC4_TNF, VC4_COMBO], [VC24R_UNT, VC24R_IFN, VC24R_TNF, VC24R_COMBO],
     [VC48_UNT, VC48_IFN, VC48_TNF, VC48_COMBO]],
]

# ---- styling ----
LEFT_COLORS = ["#000000", "#FF1010", "#1010FF", "#22B322"]
LEFT_TEXT_COLORS = ["#000000", "#FF0000", "#0000FF", "#35B835"]
RIGHT_COLORS = ["#111111", "#FFA657", "#1E86FF", "#8A1CFF"]
RIGHT_TEXT_COLORS = ["#333333", "#FFAA60", "#1A80FF", "#8A10FF"]

W, H = 1051, 611
sns.set_style("white")
plt.rcParams["font.family"] = ["Liberation Sans", "DejaVu Sans"]
plt.rcParams["font.weight"] = "bold"

fig = plt.figure(figsize=(W / 100, H / 100), dpi=100)
fig.patch.set_facecolor("white")


def px_axes(x0, y0, x1, y1):
    """Create axes from pixel box (top-left origin)."""
    return fig.add_axes([x0 / W, 1 - y1 / H, (x1 - x0) / W, (y1 - y0) / H])


def to_frame(curves, names):
    rows = []
    for name, curve in zip(names, curves):
        pts = list(curve)
        if pts[0][0] > 0:
            pts.insert(0, (0, 0))
        if pts[-1][0] < 100:
            pts.append((100, 0))
        for i, (x, y) in enumerate(pts):
            rows.append({"fluor": x, "count": y, "treatment": name, "order": i})
    return pd.DataFrame(rows)


def draw_panel(ax, curves, names, colors):
    df = to_frame(curves, names)
    sns.lineplot(data=df, x="fluor", y="count", hue="treatment", hue_order=names,
                 palette=dict(zip(names, colors)), sort=False, estimator=None,
                 linewidth=1.0, legend=False, ax=ax)
    ax.set_xlim(0, 100)
    ax.set_ylim(-0.8, 100)
    ax.set_xticks([])
    ax.set_yticks([])
    ax.set_xlabel("")
    ax.set_ylabel("")
    for s in ax.spines.values():
        s.set_visible(True)
        s.set_color("#7a7a7a")
        s.set_linewidth(1.1)


LEFT_COLS = [(47, 220), (230, 404)]
LEFT_ROWS = [(72, 244), (255, 428), (438, 611)]
RIGHT_COLS = [(526, 696), (710, 879), (892, 1062)]
RIGHT_ROWS = [(74, 245), (258, 429), (442, 613)]

for r, (y0, y1) in enumerate(LEFT_ROWS):
    for c, (x0, x1) in enumerate(LEFT_COLS):
        draw_panel(px_axes(x0, y0, x1, y1), LEFT_PANELS[r][c], LEFT_TREATMENTS, LEFT_COLORS)

for r, (y0, y1) in enumerate(RIGHT_ROWS):
    for c, (x0, x1) in enumerate(RIGHT_COLS):
        draw_panel(px_axes(x0, y0, x1, y1), RIGHT_PANELS[r][c], RIGHT_TREATMENTS, RIGHT_COLORS)


def ftext(x, y, s, **kw):
    fig.text(x / W, 1 - y / H, s, fontweight="bold", **kw)


# panel letter
ftext(18, 34, "A", fontsize=17, color="black", ha="left", va="baseline")

# legends as coloured words
for word, x, col in zip(LEFT_TREATMENTS, [77, 194, 257, 325], LEFT_TEXT_COLORS):
    ftext(x, 27, word, fontsize=16, color=col, ha="left", va="baseline")
for word, x, col in zip(RIGHT_TREATMENTS, [602, 725, 791, 865], RIGHT_TEXT_COLORS):
    ftext(x, 27, word, fontsize=16, color=col, ha="left", va="baseline")

# time-point headers
for t, (x0, x1) in zip(LEFT_TIMES, LEFT_COLS):
    ftext((x0 + x1) / 2, 62, t, fontsize=16.5, color="black", ha="center", va="baseline")
for t, xc in zip(RIGHT_TIMES, [613, 795, 976]):
    ftext(xc, 62, t, fontsize=16.5, color="#333333", ha="center", va="baseline")

# marker row labels
for m, (y0, y1) in zip(MARKERS, LEFT_ROWS):
    ftext(21.5, (y0 + y1) / 2 - 4, m, fontsize=17, color="black", rotation=90,
          ha="center", va="center")
for m, (y0, y1) in zip(MARKERS, RIGHT_ROWS):
    ftext(502, (y0 + y1) / 2 - 2, m, fontsize=17, color="black", rotation=90,
          ha="center", va="center")

fig.savefig("out.png", dpi=100, facecolor="white")
